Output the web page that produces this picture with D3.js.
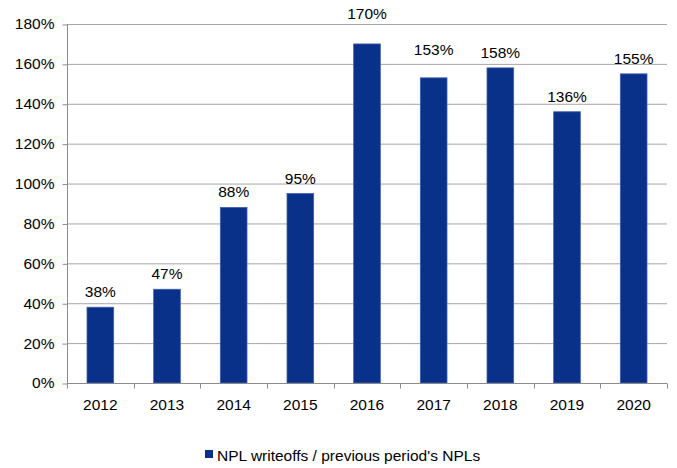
<!DOCTYPE html>
<html>
<head>
<meta charset="utf-8">
<script src="https://cdn.jsdelivr.net/npm/d3@7"></script>
<style>
  body { margin: 0; background: #fff; }
  svg { display: block; font-family: "Liberation Sans", Arial, sans-serif; }
</style>
</head>
<body>
<svg id="chart" width="677" height="468"></svg>
<script>
const years = ["2012", "2013", "2014", "2015", "2016", "2017", "2018", "2019", "2020"];
const ratios = [38, 47, 88, 95, 170, 153, 158, 136, 155];
const yTicks = [0, 20, 40, 60, 80, 100, 120, 140, 160, 180];
const seriesName = "NPL writeoffs / previous period's NPLs";

const FS = 15.5;
const svg = d3.select("#chart");
const m = { t: 24, r: 10, b: 85, l: 67 };
const W = 677, H = 468;
const iw = W - m.l - m.r, ih = H - m.t - m.b;
const g = svg.append("g").attr("transform", `translate(${m.l},${m.t})`);

const x = d3.scaleBand().domain(years).range([0, iw]).paddingInner(0.6).paddingOuter(0.3);
const y = d3.scaleLinear().domain([0, 180]).range([ih, 0]);
const step = x.step();

// gridlines
g.append("g").selectAll("line").data(yTicks.filter(d => d > 0)).join("line")
  .attr("x1", 0).attr("x2", iw).attr("y1", d => y(d) + 0.5).attr("y2", d => y(d) + 0.5)
  .attr("stroke", "#a6a6a6").attr("stroke-width", 1);

// bars
g.append("g").selectAll("rect").data(years).join("rect")
  .attr("x", (d) => x(d)).attr("width", x.bandwidth())
  .attr("y", (d, i) => y(ratios[i])).attr("height", (d, i) => ih - y(ratios[i]))
  .attr("fill", "#0a3189").attr("stroke", "#3d5fb0").attr("stroke-width", 0.8);

// value labels: sit above the bar, nudged above a gridline they would cross
const capH = 11;
function labelY(v) {
  let b = y(v) - 10;
  const hit = yTicks.map(y).find(gy => gy > b - capH + 1 && gy < b - 1);
  if (hit !== undefined) b = hit - (v > 165 ? 5 : 9);
  return b;
}
g.append("g").selectAll("text").data(years).join("text")
  .attr("x", d => x(d) + x.bandwidth() / 2).attr("y", (d, i) => labelY(ratios[i]))
  .attr("text-anchor", "middle").attr("font-size", FS).attr("fill", "#000")
  .text((d, i) => ratios[i] + "%");

// y axis
const ya = g.append("g").attr("transform", "translate(0.5,0)")
  .call(d3.axisLeft(y).tickValues(yTicks).tickFormat(d => d + "%").tickSize(5).tickPadding(8));
ya.select(".domain").attr("stroke", "#8c8c8c").attr("d", `M0,${ih}V0`);
ya.selectAll(".tick line").attr("stroke", "#8c8c8c").attr("transform", "translate(0,0.5)");
ya.selectAll(".tick text").attr("font-size", FS).attr("fill", "#000").attr("font-family", "Liberation Sans, Arial, sans-serif");

// x axis
const xa = g.append("g").attr("transform", `translate(0,${ih + 0.5})`);
xa.append("line").attr("x1", 0).attr("x2", iw).attr("stroke", "#8c8c8c");
xa.selectAll("line.tk").data(d3.range(years.length + 1)).join("line").attr("class", "tk")
  .attr("x1", i => Math.round(i * step) + 0.5).attr("x2", i => Math.round(i * step) + 0.5)
  .attr("y1", 0).attr("y2", 5).attr("stroke", "#8c8c8c");
xa.selectAll("text").data(years).join("text")
  .attr("x", d => x(d) + x.bandwidth() / 2).attr("y", 26)
  .attr("text-anchor", "middle").attr("font-size", FS).attr("fill", "#000").text(d => d);

// legend
const lg = svg.append("g").attr("transform", "translate(205,450)");
lg.append("rect").attr("x", 0).attr("y", 0).attr("width", 8).attr("height", 8).attr("fill", "#0a3189");
lg.append("text").attr("x", 12).attr("y", 11).attr("font-size", FS).attr("fill", "#000").text(seriesName);
</script>
</body>
</html>
